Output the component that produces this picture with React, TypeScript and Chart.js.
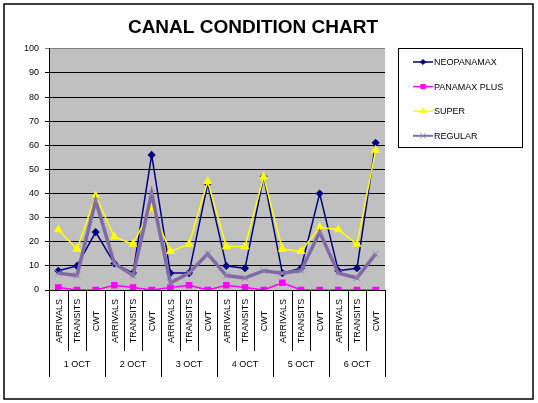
import { useEffect, useRef } from 'react'
import { Chart, registerables } from 'chart.js'
import type { Plugin } from 'chart.js'
import { drawPoint } from 'chart.js/helpers'

Chart.register(...registerables)

const days = ['1 OCT', '2 OCT', '3 OCT', '4 OCT', '5 OCT', '6 OCT']
const kinds = ['ARRIVALS', 'TRANSITS', 'CWT']
const categories = days.flatMap((d) => kinds.map((k) => `${d} ${k}`))

const neopanamax = [8, 10, 24, 11, 7, 56, 7, 7, 44, 10, 9, 47, 7, 9, 40, 8, 9, 61]
const panamaxPlus = [1, 0, 0, 2, 1, 0, 1, 2, 0, 2, 1, 0, 3, 0, 0, 0, 0, 0]
const superVals = [25, 17, 39, 22, 19, 34, 16, 19, 45, 18, 18, 47, 17, 16, 26, 25, 19, 58]
const regular = [7, 6, 37, 11, 6, 40, 3, 7, 15, 6, 5, 8, 7, 8, 24, 7, 5, 15]

const FONT = '"Liberation Sans", Arial, sans-serif'

// background of the plot, frame, legend box and the two-level category axis
const excelFrame: Plugin<'line'> = {
  id: 'excelFrame',
  beforeDraw(chart) {
    const { ctx, chartArea: a } = chart
    ctx.save()
    ctx.fillStyle = '#c0c0c0'
    ctx.fillRect(a.left, a.top, a.right - a.left, a.bottom - a.top)
    ctx.restore()
  },
  afterDraw(chart) {
    const { ctx, chartArea: a } = chart
    const xs = chart.scales.x
    const n = categories.length
    const step = xs.getPixelForValue(1) - xs.getPixelForValue(0)
    const edge = (i: number) =>
      i < n ? xs.getPixelForValue(i) - step / 2 : xs.getPixelForValue(n - 1) + step / 2

    ctx.save()
    ctx.strokeStyle = '#000'
    ctx.lineWidth = 1
    // separators
    for (let i = 0; i <= n; i++) {
      const x = Math.round(edge(i)) + 0.5
      ctx.beginPath()
      ctx.moveTo(x, a.bottom)
      ctx.lineTo(x, a.bottom + (i % kinds.length === 0 ? 87 : 61))
      ctx.stroke()
    }
    ctx.fillStyle = '#000'
    ctx.font = `9px ${FONT}`
    ctx.textAlign = 'center'
    ctx.textBaseline = 'middle'
    // rotated sub labels
    for (let i = 0; i < n; i++) {
      ctx.save()
      ctx.translate(xs.getPixelForValue(i) + 1, a.bottom + 31)
      ctx.rotate(-Math.PI / 2)
      ctx.fillText(kinds[i % kinds.length], 0, 0)
      ctx.restore()
    }
    // group labels
    days.forEach((d, g) => {
      const cx = (edge(g * kinds.length) + edge((g + 1) * kinds.length)) / 2
      ctx.fillText(d, cx, a.bottom + 75)
    })

    // outer frame
    ctx.lineWidth = 1.5
    ctx.strokeRect(4, 4, 529, 395)

    // legend
    ctx.lineWidth = 1
    ctx.strokeRect(398.5, 48.5, 124, 99)
    ctx.textAlign = 'left'
    chart.data.datasets.forEach((ds: any, i) => {
      const y = 62 + i * 24.6
      ctx.strokeStyle = ds.borderColor
      ctx.lineWidth = Math.min(ds.borderWidth, 2)
      ctx.beginPath()
      ctx.moveTo(413, y)
      ctx.lineTo(433, y)
      ctx.stroke()
      ctx.fillStyle = ds.pointBackgroundColor
      ctx.strokeStyle = ds.pointBorderColor
      ctx.lineWidth = 1
      drawPoint(ctx, { pointStyle: ds.pointStyle, radius: ds.pointRadius * 0.85, rotation: 0, borderWidth: 1 }, 423, y)
      ctx.fillStyle = '#000'
      ctx.fillText(ds.label, 434, y + 0.5)
    })
    ctx.restore()
  },
}

export default function App() {
  const canvasRef = useRef<HTMLCanvasElement>(null)

  useEffect(() => {
    if (!canvasRef.current) return
    const chart = new Chart(canvasRef.current, {
      type: 'line',
      data: {
        labels: categories,
        datasets: [
          {
            label: 'NEOPANAMAX',
            data: neopanamax,
            borderColor: '#000080',
            borderWidth: 1.5,
            pointStyle: 'rectRot',
            pointRadius: 3,
            pointBackgroundColor: '#000080',
            pointBorderColor: '#000080',
            order: 3,
          },
          {
            label: 'PANAMAX PLUS',
            data: panamaxPlus,
            borderColor: '#ff00ff',
            borderWidth: 1.5,
            pointStyle: 'rect',
            pointRadius: 3.6,
            pointBackgroundColor: '#ff00ff',
            pointBorderColor: '#ff00ff',
            order: 2,
          },
          {
            label: 'SUPER',
            data: superVals,
            borderColor: '#ffff00',
            borderWidth: 1.5,
            pointStyle: 'triangle',
            pointRadius: 3.8,
            pointBackgroundColor: '#ffff00',
            pointBorderColor: '#ffff00',
            order: 1,
          },
          {
            label: 'REGULAR',
            data: regular,
            borderColor: '#7f6aa6',
            borderWidth: 3.5,
            pointStyle: 'crossRot',
            pointRadius: 4.5,
            pointBorderWidth: 1,
            pointBackgroundColor: '#9486b4',
            pointBorderColor: '#9486b4',
            order: 0,
          },
        ],
      },
      options: {
        animation: false,
        responsive: true,
        maintainAspectRatio: false,
        devicePixelRatio: 1,
        layout: { padding: { top: 4, right: 32, left: 0, bottom: 0 } },
        elements: { line: { tension: 0 } },
        plugins: {
          legend: { display: false },
          tooltip: { enabled: false },
          title: {
            display: true,
            text: 'CANAL CONDITION CHART',
            color: '#000',
            font: { family: FONT, size: 19, weight: 'bold' },
            padding: { top: 12, bottom: 10 },
          },
        },
        scales: {
          x: {
            type: 'category',
            offset: true,
            grid: { display: false },
            ticks: { display: false },
            border: { display: true, color: '#000', width: 1 },
            afterFit: (s) => {
              s.height = 113
            },
          },
          y: {
            min: 0,
            max: 100,
            ticks: {
              stepSize: 10,
              color: '#000',
              padding: 6,
              font: { family: FONT, size: 9 },
            },
            grid: {
              color: (c) => (c.tick && c.tick.value === 100 ? '#808080' : '#000'),
              tickLength: 4,
              lineWidth: 1,
            },
            border: { display: true, color: '#000', width: 1 },
            afterFit: (s) => {
              s.width = 49
            },
          },
          // empty right-hand axis: reserves the legend's room without narrowing the title
          legendSpace: {
            type: 'linear',
            position: 'right',
            display: true,
            grid: { display: false },
            ticks: { display: false },
            border: { display: false },
            afterFit: (s) => {
              s.width = 121
            },
          },
        },
      },
      plugins: [excelFrame],
    })
    return () => chart.destroy()
  }, [])

  return (
    <div style={{ position: 'absolute', left: 0, top: 0, width: 538, height: 403, background: '#fff' }}>
      <canvas ref={canvasRef} />
    </div>
  )
}
